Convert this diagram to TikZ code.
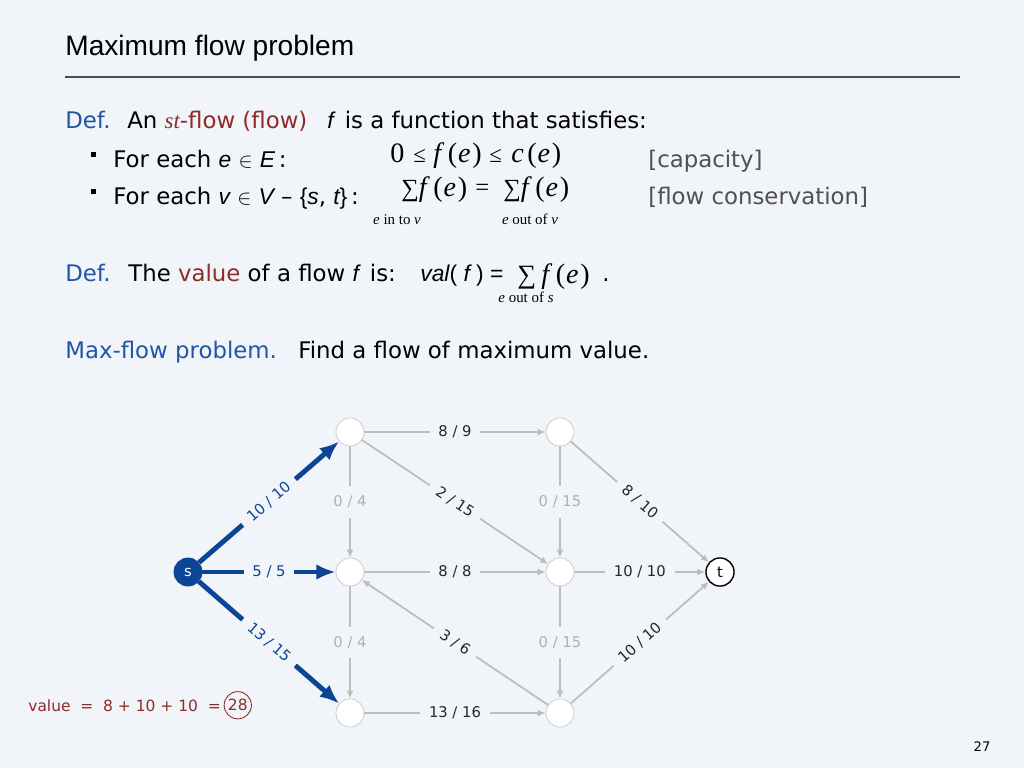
\documentclass[tikz,border=0pt]{standalone}
\usepackage{fontspec}
\setmainfont{DejaVu Sans}
\newfontfamily\titlefont{Liberation Sans}
\newfontfamily\serfont{Liberation Serif}
\usetikzlibrary{arrows.meta,positioning}

\definecolor{slidebg}{HTML}{F1F4F8}
\definecolor{defblue}{HTML}{1F56A6}
\definecolor{termred}{HTML}{8E2B2B}
\definecolor{edgegray}{HTML}{BDBDBD}
\definecolor{labgray}{HTML}{B0B0B0}
\definecolor{flowblue}{HTML}{0C4596}
\definecolor{notegray}{HTML}{505050}

% italic letters of the definitions
\newcommand{\hv}[1]{{\titlefont\itshape #1}}
% f(e) in the formulas
\newcommand{\fe}[1]{\textit{#1}\kern2pt(\kern0.5pt\textit{e}\kern1pt)}

\tikzset{
  txt/.style={anchor=base west, inner sep=0pt, font=\fontsize{13}{16}\selectfont},
  ser/.style={anchor=base west, inner sep=0pt, font=\fontsize{16}{18}\serfont},
  sub/.style={anchor=base, inner sep=0pt, font=\fontsize{8.5}{9}\serfont},
  bullet/.style={fill=black, minimum size=2.9pt, inner sep=0pt},
  vtx/.style={circle, draw=edgegray!85, fill=white, minimum size=16pt, inner sep=0pt, font=\fontsize{8.4}{9}\selectfont},
  flow/.style={draw=edgegray, line width=1pt, -{Latex[length=4.5pt,width=4pt]}},
  used/.style={draw=flowblue, line width=2.8pt, -{Latex[length=11pt,width=9pt]}},
  lbl/.style={fill=slidebg, inner xsep=5pt, inner ysep=1pt, sloped, font=\fontsize{8.4}{10}\selectfont, text=black!85},
  idle/.style={fill=slidebg, inner sep=0pt, inner ysep=5.5pt, font=\fontsize{8.4}{10}\selectfont, text=labgray},
  hot/.style={lbl, text=flowblue},
}

\begin{document}
\begin{tikzpicture}[x=0.02cm, y=-0.02cm]
  % page
  \fill[slidebg] (0,0) rectangle (1024,768);
  \useasboundingbox (0,0) rectangle (1024,768);

  % title and rule
  \node[anchor=base west, inner sep=0pt, font=\fontsize{16}{18}\titlefont] (title) at (65,55) {Maximum flow problem};
  \draw[black!70, line width=1.1pt] (65,77) -- (960,77);

  % first definition
  \node[txt, text=defblue] (def1) at (65,128) {Def.};
  \node[txt] (an) at (127,128) {An \textcolor{termred}{{\serfont\itshape st}-flow (flow)}};
  \node[txt] (func) at (327,128) {\hv{f}\, is a function that satisfies:};

  % capacity
  \node[bullet] (bul1) at (93.5,154.5) {};
  \node[txt] (each1) at (113,167) {For each \hv{e} $\in$ \hv{E}\,:};
  \foreach \px/\piece [count=\i] in {390/0, 413/{\fontsize{13}{14}\selectfont ≤}, 433/\fe{f}, 489/{\fontsize{13}{14}\selectfont ≤}, 511/\fe{c}}
    \node[ser] (cap\i) at (\px,162) {\piece};
  \node[txt, text=notegray] (capnote) at (648,167) {[capacity]};

  % conservation
  \node[bullet] (bul2) at (93.5,191.5) {};
  \node[txt] (each2) at (113,204) {For each \hv{v} $\in$ \hv{V} – {\titlefont\{}\hv{s}, \hv{t}{\titlefont\}}\,:};
  \node[ser] (sumin) at (401,196) {{\fontsize{14}{15}\selectfont ∑}\fe{f}};
  \node[ser, font=\fontsize{14}{15}\serfont] (eq) at (475,195) {=};
  \node[ser] (sumout) at (503,196) {{\fontsize{14}{15}\selectfont ∑}\fe{f}};
  \node[sub] (in) at (397,224) {\textit{e} in to \textit{v}};
  \node[sub] (out) at (530,224) {\textit{e} out of \textit{v}};
  \node[txt, text=notegray] (consnote) at (648,204) {[flow conservation]};

  % value of a flow
  \node[txt, text=defblue] (def2) at (65,281) {Def.};
  \node[txt] (val) at (128,281) {The \textcolor{termred}{value} of a flow \hv{f}\, is:};
  \node[txt, font=\fontsize{13}{16}\titlefont\itshape] (valf) at (420,281) {val{\upshape (} f {\upshape )} {\upshape =}};
  \node[ser] (sumval) at (517,283) {{\fontsize{15}{16}\selectfont ∑}\hspace{3pt}\fe{f}};
  \node[txt] (dot) at (602,281) {.};
  \node[sub] (outs) at (526,302) {\textit{e} out of \textit{s}};

  % problem statement
  \node[txt, text=defblue] (prob) at (65,358) {Max-flow problem.};
  \node[txt] (find) at (298,358) {Find a flow of maximum value.};

  % network nodes
  \node[vtx, draw=flowblue, fill=flowblue, text=white] (s) at (188,572) {s};
  \node[vtx] (a) at (350,432) {};
  \node[vtx] (b) at (350,572) {};
  \node[vtx] (c) at (350,713) {};
  \node[vtx] (d) at (560,432) {};
  \node[vtx] (e) at (560,572) {};
  \node[vtx] (f) at (560,713) {};
  \node[vtx, draw=black, thick] (t) at (720,572) {t};

  % edges leaving s
  \draw[used] (s) -- node[hot] {10 / 10} (a);
  \draw[used] (s) -- node[hot] {5 / 5} (b);
  \draw[used] (s) -- node[hot] {13 / 15} (c);

  % remaining edges
  \draw[flow] (a) -- node[lbl] {8 / 9} (d);
  \draw[flow] (a) -- node[idle] {0 / 4} (b);
  \draw[flow] (a) -- node[lbl] {2 / 15} (e);
  \draw[flow] (d) -- node[idle] {0 / 15} (e);
  \draw[flow] (d) -- node[lbl] {8 / 10} (t);
  \draw[flow] (b) -- node[lbl] {8 / 8} (e);
  \draw[flow] (b) -- node[idle] {0 / 4} (c);
  \draw[flow] (f) -- node[lbl] {3 / 6} (b);
  \draw[flow] (e) -- node[lbl] {10 / 10} (t);
  \draw[flow] (e) -- node[idle] {0 / 15} (f);
  \draw[flow] (c) -- node[lbl] {13 / 16} (f);
  \draw[flow] (f) -- node[lbl] {10 / 10} (t);

  % value of this flow
  \node[anchor=base west, inner sep=0pt, text=termred, font=\fontsize{8.8}{11}\selectfont] (total) at (28,711) {value \ = \ 8 + 10 + 10 \ =};
  \node[circle, draw=termred, line width=0.5pt, inner sep=0pt, minimum size=15.5pt, text=termred, font=\fontsize{8.8}{11}\selectfont, right=1.5pt of total] (res) {28};

  % page number
  \node[anchor=base, inner sep=0pt, font=\fontsize{7.5}{8}\selectfont] (page) at (982,751) {27};
\end{tikzpicture}
\end{document}
